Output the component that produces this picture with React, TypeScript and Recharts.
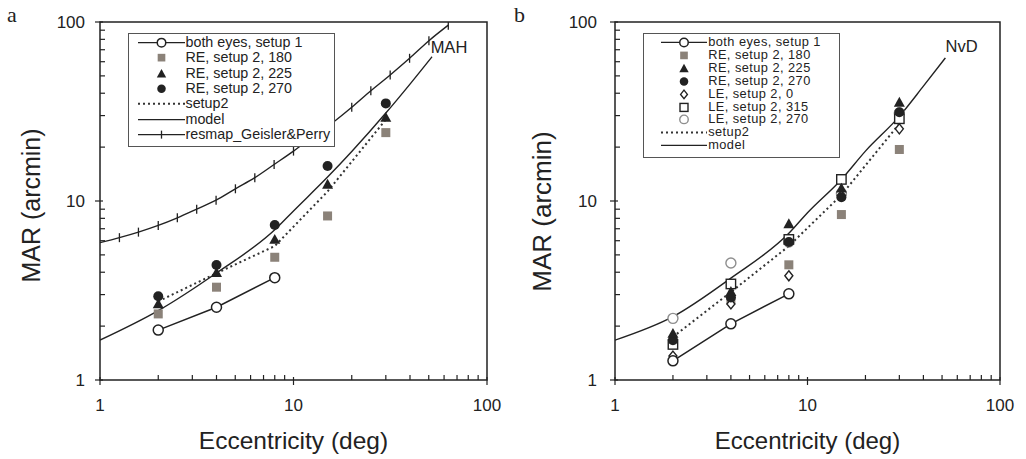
import React from 'react';
import {
  ComposedChart,
  Line,
  Scatter,
  XAxis,
  YAxis,
  ReferenceArea,
  ReferenceDot,
  Legend,
} from 'recharts';

const FONT = '"Liberation Sans", Arial, Helvetica, sans-serif';
const INK = '#222';
const GRAY = '#8b8279';
const LIGHT = '#8e8e8e';

// log axes, ticks at every 1..9 x decade
const axisTicks = [1, 2, 3, 4, 5, 6, 7, 8, 9, 10, 20, 30, 40, 50, 60, 70, 80, 90, 100];
const majorTicks = [1, 10, 100];

// eccentricities (deg)
const ecc = [2, 4, 8, 15, 30];
const eccSetup1 = [2, 4, 8];
const eccModel = [1, 2, 4, 8, 10, 15, 20, 30, 40, 52];
const eccResmap = [1, 1.26, 1.58, 2, 2.51, 3.16, 3.98, 5.01, 6.31, 7.94, 10, 12.6, 15.8, 20, 25.1, 31.6, 39.8, 50.1, 63.1];

// panel a (MAH), MAR in arcmin
const aBoth = [1.9, 2.55, 3.73];
const aRE180 = [2.34, 3.3, 4.85, 8.25, 24.1];
const aRE225 = [2.66, 3.98, 6.1, 12.4, 29.3];
const aRE270 = [2.94, 4.39, 7.34, 15.7, 35.1];
const aSetup2 = [2.75, 3.95, 5.6, 11.3, 28.5];
const aModel = [1.67, 2.44, 3.96, 6.9, 8.8, 13.6, 18.9, 31, 45, 64];
const aResmap = [5.85, 6.24, 6.7, 7.3, 8.05, 9.0, 10.1, 11.7, 13.5, 16.0, 19.0, 22.9, 27.2, 33.4, 41.3, 50.6, 62.7, 78.6, 96];

// panel b (NvD)
const bBoth = [1.28, 2.06, 3.03];
const bRE180 = [1.6, 2.8, 4.4, 8.4, 19.4];
const bRE225 = [1.82, 3.12, 7.46, 11.8, 35.6];
const bRE270 = [1.67, 2.89, 5.9, 10.5, 31.3];
const bLE0 = [1.36, 2.66, 3.82, 10.7, 25.3];
const bLE315 = [1.58, 3.44, 6.1, 13.2, 28.8];
const bLE270 = [2.21, 4.5, 5.9, 11.0, 31];
const bSetup2 = [1.74, 3.1, 5.6, 10.8, 27];
const bModel = [1.67, 2.26, 3.71, 6.6, 8.6, 13.2, 19, 29.7, 43.8, 63];

// curve name tags, anchored in data space
const tagA = { x: 63.6, y: 72.8, text: 'MAH' };
const tagB = { x: 63.2, y: 73, text: 'NvD' };

type Kind =
  | 'openCircle' | 'square' | 'triangle' | 'dot' | 'diamond' | 'openSquare' | 'grayCircle'
  | 'lineCircle' | 'line' | 'dotted' | 'lineTick';

const legendA: [Kind, string][] = [
  ['lineCircle', 'both eyes, setup 1'],
  ['square', 'RE, setup 2, 180'],
  ['triangle', 'RE, setup 2, 225'],
  ['dot', 'RE, setup 2, 270'],
  ['dotted', 'setup2'],
  ['line', 'model'],
  ['lineTick', 'resmap_Geisler&Perry'],
];

const legendB: [Kind, string][] = [
  ['lineCircle', 'both eyes, setup 1'],
  ['square', 'RE, setup 2, 180'],
  ['triangle', 'RE, setup 2, 225'],
  ['dot', 'RE, setup 2, 270'],
  ['diamond', 'LE, setup 2, 0'],
  ['openSquare', 'LE, setup 2, 315'],
  ['grayCircle', 'LE, setup 2, 270'],
  ['dotted', 'setup2'],
  ['line', 'model'],
];

const toPts = (xs: number[], ys: number[]) => xs.map((x, i) => ({ x, y: ys[i] }));

function marker(kind: Kind, cx: number, cy: number, s = 1, key?: string) {
  switch (kind) {
    case 'openCircle':
      return <circle key={key} cx={cx} cy={cy} r={5 * s} fill="#fff" stroke={INK} strokeWidth={1.5} />;
    case 'grayCircle':
      return <circle key={key} cx={cx} cy={cy} r={5 * s} fill="#fff" stroke={LIGHT} strokeWidth={1.4} />;
    case 'dot':
      return <circle key={key} cx={cx} cy={cy} r={5 * s} fill={INK} />;
    case 'square': {
      const h = 4.5 * s;
      return <rect key={key} x={cx - h} y={cy - h} width={2 * h} height={2 * h} fill={GRAY} />;
    }
    case 'openSquare': {
      const h = 4.7 * s;
      return <rect key={key} x={cx - h} y={cy - h} width={2 * h} height={2 * h} fill="#fff" stroke={INK} strokeWidth={1.4} />;
    }
    case 'triangle': {
      const h = 5.5 * s;
      return <polygon key={key} points={`${cx},${cy - h} ${cx + h},${cy + h * 0.8} ${cx - h},${cy + h * 0.8}`} fill={INK} />;
    }
    case 'diamond': {
      const h = 5 * s;
      return <polygon key={key} points={`${cx},${cy - h} ${cx + h * 0.8},${cy} ${cx},${cy + h} ${cx - h * 0.8},${cy}`} fill="#fff" stroke={INK} strokeWidth={1.4} />;
    }
    default:
      return null;
  }
}

function legendIcon(kind: Kind, w: number, h: number) {
  const cy = h / 2;
  const base = <line x1={0} x2={w} y1={cy} y2={cy} stroke={INK} strokeWidth={1.4} />;
  if (kind === 'line') return base;
  if (kind === 'dotted') return <line x1={0} x2={w} y1={cy} y2={cy} stroke="#333" strokeWidth={2} strokeDasharray="2 3" />;
  if (kind === 'lineCircle') return <g>{base}{marker('openCircle', w / 2, cy, 0.85)}</g>;
  if (kind === 'lineTick') return <g>{base}<line x1={w / 2} x2={w / 2} y1={cy - 4} y2={cy + 4} stroke={INK} strokeWidth={1.3} /></g>;
  return marker(kind, w / 2, cy, 0.85);
}

const LegendBox = ({ rows, width, height, fontSize, rowH, padTop, iconLeft, iconW, spacing = 0 }: any) => (
  <div
    style={{
      width, height, boxSizing: 'border-box', border: '1.5px solid #555', background: '#fff',
      paddingTop: padTop, fontFamily: FONT, fontSize, color: INK, letterSpacing: spacing,
    }}
  >
    {rows.map(([kind, label]: [Kind, string]) => (
      <div key={label} style={{ display: 'flex', alignItems: 'center', height: rowH, lineHeight: `${rowH}px`, whiteSpace: 'nowrap' }}>
        <svg width={iconW} height={rowH} style={{ marginLeft: iconLeft, flex: 'none', overflow: 'visible' }}>
          {legendIcon(kind, iconW, rowH)}
        </svg>
        <span style={{ marginLeft: 1 }}>{label}</span>
      </div>
    ))}
  </div>
);

const XTick = (props: any) => {
  const { x, y, payload } = props;
  const v = payload.value;
  const major = majorTicks.includes(v);
  return (
    <g>
      <line x1={x} x2={x} y1={major ? y - 3 : y - 5} y2={major ? y + 5 : y} stroke={INK} strokeWidth={1.2} />
      {major && (
        <text x={x} y={y + 31} textAnchor="middle" fontSize={17} fontFamily={FONT} fill={INK}>
          {v}
        </text>
      )}
    </g>
  );
};

const YTick = (props: any) => {
  const { x, y, payload, gap } = props;
  const v = payload.value;
  const major = majorTicks.includes(v);
  return (
    <g>
      <line x1={major ? x - 5 : x} x2={major ? x + 3 : x + 5} y1={y} y2={y} stroke={INK} strokeWidth={1.2} />
      {major && (
        <text x={x - gap} y={y + 6} textAnchor="end" fontSize={17} fontFamily={FONT} fill={INK}>
          {v}
        </text>
      )}
    </g>
  );
};

interface PanelProps {
  width: number;
  plotLeft: number;
  plotRight: number;
  tickGap: number;
  yTitle: { size: number; dy: number };
  xTitleSize: number;
  tag: { x: number; y: number; text: string };
  legend: React.ReactElement;
  legendPos: { left: number; top: number; width: number; height: number };
  children: React.ReactNode;
}

const Panel = ({ width, plotLeft, plotRight, tickGap, yTitle, xTitleSize, tag, legend, legendPos, children }: PanelProps) => (
  <ComposedChart width={width} height={459} margin={{ top: 22, right: width - plotRight, bottom: 0, left: 0 }}>
    <XAxis
      dataKey="x"
      type="number"
      scale="log"
      domain={[1, 100]}
      allowDataOverflow
      ticks={axisTicks}
      interval={0}
      tickSize={0}
      tickMargin={0}
      axisLine={false}
      tickLine={false}
      height={79}
      tick={XTick}
      label={{ value: 'Eccentricity (deg)', position: 'insideBottom', offset: 10, fontSize: xTitleSize, fontFamily: FONT, fill: INK }}
    />
    <YAxis
      dataKey="y"
      type="number"
      scale="log"
      domain={[1, 100]}
      allowDataOverflow
      ticks={axisTicks}
      interval={0}
      tickSize={0}
      tickMargin={0}
      axisLine={false}
      tickLine={false}
      width={plotLeft}
      tick={(p: any) => <YTick {...p} gap={tickGap} />}
      label={{ value: 'MAR (arcmin)', angle: -90, position: 'center', dx: 31.5 - plotLeft / 2, dy: yTitle.dy, fontSize: yTitle.size, fontFamily: FONT, fill: INK }}
    />
    <ReferenceArea x1={1} x2={100} y1={1} y2={100} fill="none" stroke={INK} strokeWidth={1.5} ifOverflow="visible" />
    {children}
    <ReferenceDot
      x={tag.x}
      y={tag.y}
      r={1}
      fill="none"
      stroke="none"
      label={{ value: tag.text, position: 'center', fontSize: 16.5, fontFamily: FONT, fill: INK }}
    />
    <Legend
      layout="vertical"
      align="center"
      verticalAlign="middle"
      wrapperStyle={{ ...legendPos }}
      content={() => legend}
    />
  </ComposedChart>
);

const noDot = false;

export default function App() {
  return (
    <div style={{ position: 'fixed', left: 0, top: 0, width: 1026, height: 459, background: '#fff', overflow: 'hidden' }}>
      <div style={{ position: 'absolute', left: 0, top: 0 }}>
        <Panel
          width={510}
          plotLeft={100}
          plotRight={487}
          tickGap={15}
          yTitle={{ size: 25, dy: 4.5 }}
          xTitleSize={24.5}
          tag={tagA}
          legendPos={{ left: 128, top: 33, width: 207, height: 114 }}
          legend={<LegendBox rows={legendA} width={207} height={114} fontSize={14.3} rowH={15.3} padTop={1.2} iconLeft={8.5} iconW={47} />}
        >
          <Line data={toPts(eccResmap, aResmap)} dataKey="y" type="monotone" stroke={INK} strokeWidth={1.4}
            dot={(p: any) => p.index === 0 ? <g key="r0" /> : <line key={`r${p.index}`} x1={p.cx} x2={p.cx} y1={p.cy - 4.5} y2={p.cy + 4.5} stroke={INK} strokeWidth={1.3} />}
            activeDot={false} isAnimationActive={false} />
          <Line data={toPts(eccModel, aModel)} dataKey="y" type="monotone" stroke={INK} strokeWidth={1.4} dot={noDot} activeDot={false} isAnimationActive={false} />
          <Line data={toPts(ecc, aSetup2)} dataKey="y" type="linear" stroke="#333" strokeWidth={2} strokeDasharray="2 3" dot={noDot} activeDot={false} isAnimationActive={false} />
          <Scatter data={toPts(ecc, aRE180)} shape={(p: any) => marker('square', p.cx, p.cy)} isAnimationActive={false} />
          <Scatter data={toPts(ecc, aRE270)} shape={(p: any) => marker('dot', p.cx, p.cy)} isAnimationActive={false} />
          <Scatter data={toPts(ecc, aRE225)} shape={(p: any) => marker('triangle', p.cx, p.cy)} isAnimationActive={false} />
          <Line data={toPts(eccSetup1, aBoth)} dataKey="y" type="linear" stroke={INK} strokeWidth={1.5}
            dot={(p: any) => marker('openCircle', p.cx, p.cy, 1, `a${p.index}`)} activeDot={false} isAnimationActive={false} />
        </Panel>
      </div>
      <div style={{ position: 'absolute', left: 510, top: 0 }}>
        <Panel
          width={516}
          plotLeft={105}
          plotRight={490}
          tickGap={18}
          yTitle={{ size: 26, dy: 10.5 }}
          xTitleSize={24}
          tag={tagB}
          legendPos={{ left: 133, top: 33, width: 197, height: 125 }}
          legend={<LegendBox rows={legendB} width={197} height={125} fontSize={12.8} spacing={0.45} rowH={12.84} padTop={2.4} iconLeft={17.2} iconW={46} />}
        >
          <Line data={toPts(eccModel, bModel)} dataKey="y" type="monotone" stroke={INK} strokeWidth={1.4} dot={noDot} activeDot={false} isAnimationActive={false} />
          <Line data={toPts(ecc, bSetup2)} dataKey="y" type="linear" stroke="#333" strokeWidth={2} strokeDasharray="2 3" dot={noDot} activeDot={false} isAnimationActive={false} />
          <Scatter data={toPts(ecc, bRE180)} shape={(p: any) => marker('square', p.cx, p.cy)} isAnimationActive={false} />
          <Scatter data={toPts(ecc, bLE270)} shape={(p: any) => marker('grayCircle', p.cx, p.cy)} isAnimationActive={false} />
          <Scatter data={toPts(ecc, bLE315)} shape={(p: any) => marker('openSquare', p.cx, p.cy)} isAnimationActive={false} />
          <Scatter data={toPts(ecc, bLE0)} shape={(p: any) => marker('diamond', p.cx, p.cy)} isAnimationActive={false} />
          <Scatter data={toPts(ecc, bRE270)} shape={(p: any) => marker('dot', p.cx, p.cy)} isAnimationActive={false} />
          <Scatter data={toPts(ecc, bRE225)} shape={(p: any) => marker('triangle', p.cx, p.cy)} isAnimationActive={false} />
          <Line data={toPts(eccSetup1, bBoth)} dataKey="y" type="linear" stroke={INK} strokeWidth={1.5}
            dot={(p: any) => marker('openCircle', p.cx, p.cy, 1, `b${p.index}`)} activeDot={false} isAnimationActive={false} />
        </Panel>
      </div>
      <div style={{ position: 'absolute', left: 7, top: 4, fontFamily: '"Liberation Serif", "Times New Roman", serif', fontSize: 22, lineHeight: '22px', color: INK }}>a</div>
      <div style={{ position: 'absolute', left: 514, top: 4, fontFamily: '"Liberation Serif", "Times New Roman", serif', fontSize: 22, lineHeight: '22px', color: INK }}>b</div>
    </div>
  );
}
